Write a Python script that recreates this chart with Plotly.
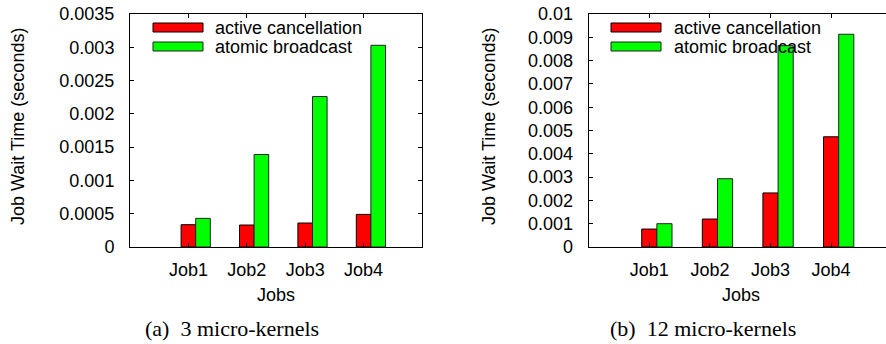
import plotly.graph_objects as go

W, H = 886, 344

jobs = ["Job1", "Job2", "Job3", "Job4"]
series_names = ["active cancellation", "atomic broadcast"]

# (a) 3 micro-kernels
active_3 = [0.000335, 0.00033, 0.00036, 0.00049]
atomic_3 = [0.00043, 0.00139, 0.00226, 0.00303]
yticks_3 = [0, 0.0005, 0.001, 0.0015, 0.002, 0.0025, 0.003, 0.0035]
yticktext_3 = ["0", "0.0005", "0.001", "0.0015", "0.002", "0.0025", "0.003", "0.0035"]

# (b) 12 micro-kernels
active_12 = [0.00077, 0.0012, 0.00232, 0.00473]
atomic_12 = [0.001, 0.00293, 0.00864, 0.00913]
yticks_12 = [0, 0.001, 0.002, 0.003, 0.004, 0.005, 0.006, 0.007, 0.008, 0.009, 0.01]
yticktext_12 = ["0", "0.001", "0.002", "0.003", "0.004", "0.005", "0.006",
                "0.007", "0.008", "0.009", "0.01"]

captions = ["(a)\u20023 micro-kernels", "(b)\u200212 micro-kernels"]

RED = "#ff0000"
GREEN = "#00ff00"
SANS = "Liberation Sans, Arial, sans-serif"
SERIF = "Liberation Serif, Times New Roman, serif"
FS = 18

def px(x):
    return x / W

def py(y):
    return 1 - y / H

fig = go.Figure()

for (xa, ya, act, atm) in [("x", "y", active_3, atomic_3), ("x2", "y2", active_12, atomic_12)]:
    fig.add_trace(go.Bar(
        x=jobs, y=act, name=series_names[0], width=0.25, offset=-0.125,
        marker=dict(color=RED, line=dict(color="black", width=1)),
        xaxis=xa, yaxis=ya, showlegend=False))
    fig.add_trace(go.Bar(
        x=jobs, y=atm, name=series_names[1], width=0.25, offset=0.125,
        marker=dict(color=GREEN, line=dict(color="#222222", width=1)),
        xaxis=xa, yaxis=ya, showlegend=False))

axis_common = dict(showline=True, linecolor="black", linewidth=1, ticks="inside",
                   ticklen=4, tickcolor="black", showgrid=False, zeroline=False,
                   tickfont=dict(family=SANS, size=FS, color="black"), automargin=False)

fig.update_layout(
    width=W, height=H,
    margin=dict(l=0, r=0, t=0, b=0),
    paper_bgcolor="white", plot_bgcolor="white",
    barmode="overlay",
    xaxis=dict(domain=[px(130), px(422)], type="category", range=[-1, 4],
               mirror="ticks", anchor="y", ticklabelstandoff=6, **axis_common),
    yaxis=dict(domain=[py(247), py(14)], range=[0, 0.0035], tickvals=yticks_3,
               ticktext=yticktext_3, mirror="ticks", anchor="x", ticklabelstandoff=11,
               **axis_common),
    xaxis2=dict(domain=[px(588.7), 1.0], type="category", range=[-1, 3.906],
                mirror="ticks", anchor="y2", ticklabelstandoff=6, **axis_common),
    yaxis2=dict(domain=[py(247), py(14)], range=[0, 0.01], tickvals=yticks_12,
                ticktext=yticktext_12, mirror=False, anchor="x2", ticklabelstandoff=11,
                **axis_common),
)

annotations = []
shapes = []
for ytitle_x, jobs_x, cap_x, leg_x0, text_x, cap in [
        (18, 276, 232.5, 153, 213, captions[0]),
        (489, 740.7, 703, 611, 672, captions[1])]:
    annotations.append(dict(text="Job Wait Time (seconds)", x=px(ytitle_x), y=py(127),
                            xref="paper", yref="paper", showarrow=False, textangle=-90,
                            xanchor="center", yanchor="middle",
                            font=dict(family=SANS, size=FS, color="black")))
    annotations.append(dict(text="Jobs", x=px(jobs_x), y=py(295), xref="paper", yref="paper",
                            showarrow=False, xanchor="center", yanchor="middle",
                            font=dict(family=SANS, size=FS, color="black")))
    annotations.append(dict(text=cap, x=px(cap_x), y=py(328), xref="paper", yref="paper",
                            showarrow=False, xanchor="center", yanchor="middle",
                            font=dict(family=SERIF, size=22, color="black")))
    for i, (col, lc, yc) in enumerate([(RED, "black", 27.5), (GREEN, "#222222", 46.5)]):
        shapes.append(dict(type="rect", xref="paper", yref="paper",
                           x0=px(leg_x0), x1=px(leg_x0 + 50), y0=py(yc + 4.5), y1=py(yc - 4.5),
                           fillcolor=col, line=dict(color=lc, width=1)))
        annotations.append(dict(text=series_names[i], x=px(text_x), y=py(yc), xref="paper",
                                yref="paper", showarrow=False, xanchor="left", yanchor="middle",
                                font=dict(family=SANS, size=FS, color="black")))

fig.update_layout(annotations=annotations, shapes=shapes)

fig.write_html("out.html", config={"displayModeBar": False},
               post_script="document.body.style.margin='0';document.body.style.padding='0';")
